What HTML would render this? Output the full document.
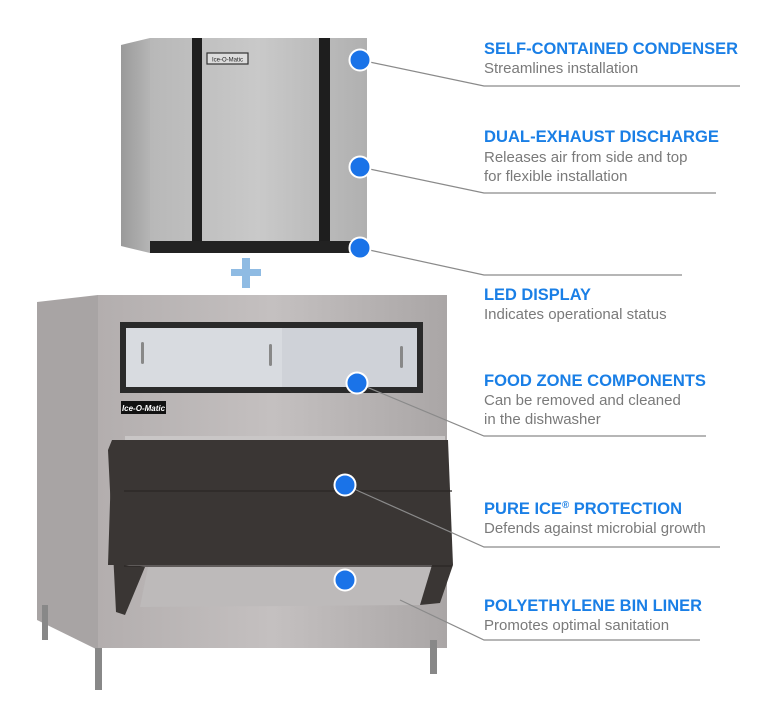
<!DOCTYPE html>
<html><head><meta charset="utf-8"><style>
html,body{margin:0;padding:0;background:#fff;}
svg{display:block}
.t{font-family:"Liberation Sans",sans-serif;font-weight:bold;font-size:17px;fill:#1a7fe6}
.s{font-family:"Liberation Sans",sans-serif;font-size:15px;fill:#7a7a7a}
</style></head><body>
<svg width="770" height="726" viewBox="0 0 770 726" xmlns="http://www.w3.org/2000/svg">
<defs>
<linearGradient id="steel" x1="0" x2="1" y1="0" y2="0">
<stop offset="0" stop-color="#b8b8b8"/><stop offset="0.5" stop-color="#c9c9c9"/><stop offset="1" stop-color="#b0b0b0"/></linearGradient>
<linearGradient id="side" x1="0" x2="1"><stop offset="0" stop-color="#9a9a9a"/><stop offset="1" stop-color="#b5b5b5"/></linearGradient>
<linearGradient id="binf" x1="0" x2="1"><stop offset="0" stop-color="#b3aeae"/><stop offset="0.5" stop-color="#c4c0c0"/><stop offset="1" stop-color="#aaa6a6"/></linearGradient>
</defs>
<!-- ice machine -->
<polygon points="121,45 150,38 150,253 121,246" fill="url(#side)"/>
<rect x="150" y="38" width="217" height="205" fill="url(#steel)"/>
<rect x="192" y="38" width="10" height="205" fill="#1e1e1e"/>
<rect x="319" y="38" width="11" height="205" fill="#1e1e1e"/>
<rect x="150" y="241" width="217" height="12" fill="#222"/>
<rect x="207" y="53" width="41" height="11" fill="#ddd" stroke="#333" stroke-width="1.2"/>
<text x="227.5" y="61.5" font-family="Liberation Sans,sans-serif" font-size="6" text-anchor="middle" fill="#222">Ice-O-Matic</text>
<!-- plus -->
<rect x="231" y="269" width="30" height="7" fill="#8fbbe3"/>
<rect x="242" y="258" width="8" height="30" fill="#8fbbe3"/>
<!-- bin -->
<polygon points="37,302 98,295 98,650 37,620" fill="#a8a4a4"/>
<rect x="98" y="295" width="349" height="353" fill="url(#binf)"/>
<rect x="42" y="605" width="6" height="35" fill="#888"/>
<rect x="95" y="648" width="7" height="42" fill="#888"/>
<rect x="430" y="640" width="7" height="34" fill="#888"/>
<rect x="120" y="322" width="303" height="71" fill="#2a2a2a"/>
<rect x="126" y="328" width="291" height="59" fill="#d8dbe0"/>
<rect x="282" y="328" width="135" height="59" fill="#cfd2d8"/>
<rect x="141" y="342" width="3" height="22" rx="1.5" fill="#888"/>
<rect x="269" y="344" width="3" height="22" rx="1.5" fill="#888"/>
<rect x="400" y="346" width="3" height="22" rx="1.5" fill="#888"/>
<rect x="121" y="401" width="45" height="13" fill="#111"/>
<text x="143.5" y="411" font-family="Liberation Sans,sans-serif" font-size="8" font-weight="bold" font-style="italic" text-anchor="middle" fill="#fff">Ice-O-Matic</text>
<rect x="125" y="436" width="320" height="5" fill="#c9c6c6"/>
<polygon points="112,440 448,440 453,565 108,565" fill="#3a3634"/>
<polygon points="148,567 432,567 422,605 140,607" fill="#bdbaba"/>
<polygon points="108,450 112,440 125,445 125,565 145,567 125,615 116,612" fill="#3a3634"/>
<polygon points="432,565 453,565 440,603 420,605" fill="#3a3634"/>
<line x1="124" y1="491" x2="452" y2="491" stroke="#2a2624" stroke-width="1.2"/>
<line x1="124" y1="566" x2="452" y2="566" stroke="#2a2624" stroke-width="1.2"/>
<!-- connector lines -->
<g stroke="#8a8a8a" stroke-width="1.2" fill="none">
<polyline points="360,60 484,86 740,86"/>
<polyline points="360,167 484,193 716,193"/>
<polyline points="360,248 484,275 682,275"/>
<polyline points="357,383 484,436 706,436"/>
<polyline points="345,485 484,547 720,547"/>
<polyline points="400,600 484,640 700,640"/>
</g>
<!-- dots -->
<g fill="#1a73e8" stroke="#fff" stroke-width="2">
<circle cx="360" cy="60" r="10.5"/><circle cx="360" cy="167" r="10.5"/><circle cx="360" cy="248" r="10.5"/>
<circle cx="357" cy="383" r="10.5"/><circle cx="345" cy="485" r="10.5"/><circle cx="345" cy="580" r="10.5"/>
</g>
<!-- labels -->
<text class="t" x="484" y="54" textLength="254" lengthAdjust="spacingAndGlyphs">SELF-CONTAINED CONDENSER</text>
<text class="s" x="484" y="73">Streamlines installation</text>
<text class="t" x="484" y="142" textLength="235" lengthAdjust="spacingAndGlyphs">DUAL-EXHAUST DISCHARGE</text>
<text class="s" x="484" y="162">Releases air from side and top</text>
<text class="s" x="484" y="181">for flexible installation</text>
<text class="t" x="484" y="300" textLength="107" lengthAdjust="spacingAndGlyphs">LED DISPLAY</text>
<text class="s" x="484" y="319">Indicates operational status</text>
<text class="t" x="484" y="386" textLength="222" lengthAdjust="spacingAndGlyphs">FOOD ZONE COMPONENTS</text>
<text class="s" x="484" y="405">Can be removed and cleaned</text>
<text class="s" x="484" y="424">in the dishwasher</text>
<text class="t" x="484" y="514" textLength="198" lengthAdjust="spacingAndGlyphs">PURE ICE<tspan font-size="10" dy="-6">®</tspan><tspan dy="6"> PROTECTION</tspan></text>
<text class="s" x="484" y="533">Defends against microbial growth</text>
<text class="t" x="484" y="611" textLength="218" lengthAdjust="spacingAndGlyphs">POLYETHYLENE BIN LINER</text>
<text class="s" x="484" y="630">Promotes optimal sanitation</text>
</svg>
</body></html>
